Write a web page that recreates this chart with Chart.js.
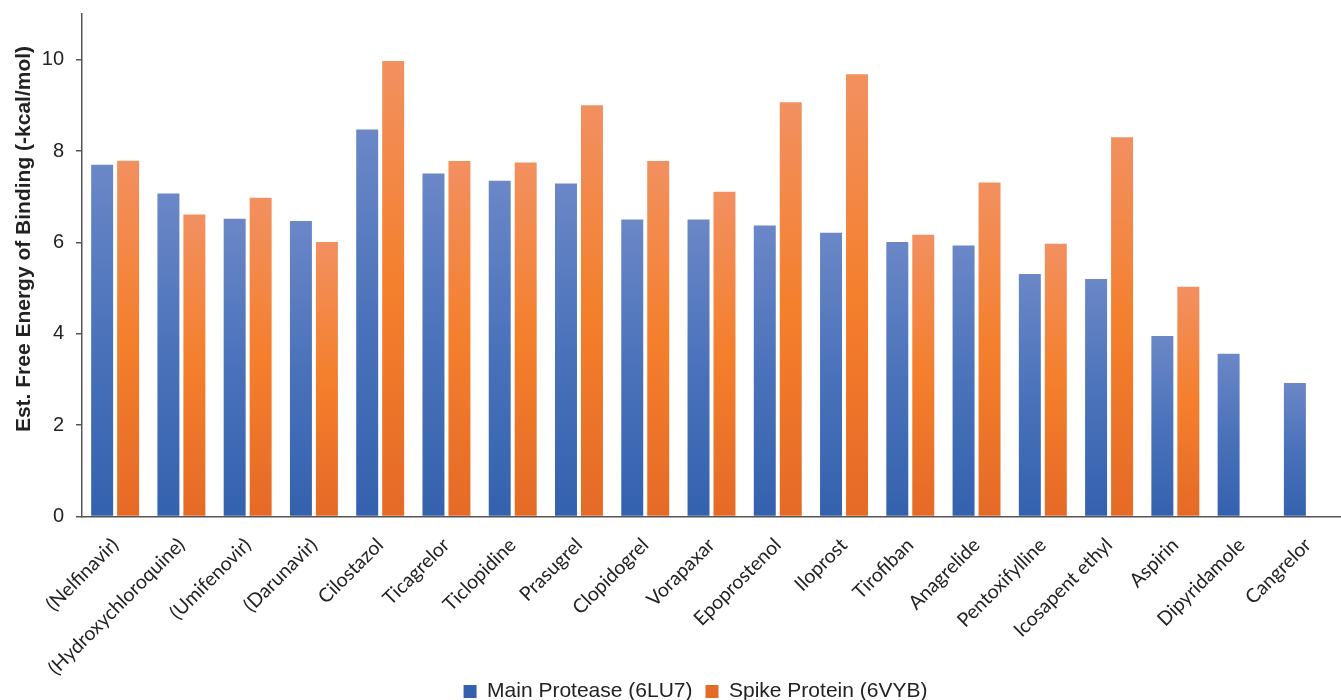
<!DOCTYPE html>
<html>
<head>
<meta charset="utf-8">
<script src="https://cdn.jsdelivr.net/npm/chart.js@4.4.1/dist/chart.umd.min.js"></script>
<style>
html,body{margin:0;padding:0;background:#fff;}
#wrap{width:1341px;height:700px;position:relative;}
</style>
</head>
<body>
<div id="wrap"><canvas id="c"></canvas></div>
<script>
const categories = ["(Nelfinavir)","(Hydroxychloroquine)","(Umifenovir)","(Darunavir)","Cilostazol","Ticagrelor","Ticlopidine","Prasugrel","Clopidogrel","Vorapaxar","Epoprostenol","Iloprost","Tirofiban","Anagrelide","Pentoxifylline","Icosapent ethyl","Aspirin","Dipyridamole","Cangrelor"];
const mainProtease = [7.70,7.07,6.52,6.47,8.47,7.51,7.35,7.29,6.50,6.50,6.37,6.21,6.01,5.93,5.31,5.20,3.95,3.56,2.92];
const spikeProtein = [7.79,6.61,6.98,6.01,9.97,7.78,7.75,9.00,7.78,7.11,9.07,9.68,6.17,7.31,5.97,8.30,5.03,null,null];
const yTicks = [0,2,4,6,8,10];
const yTitle = 'Est. Free Energy of Binding (-kcal/mol)';

function gradFill(stops, solid){
  return function(ctx){
    const chart = ctx.chart;
    if (ctx.type !== 'data' || !chart.chartArea || ctx.raw == null) return solid;
    const y = chart.scales.y;
    const top = y.getPixelForValue(ctx.raw);
    const base = y.getPixelForValue(0);
    const g = chart.ctx.createLinearGradient(0, top, 0, base);
    g.addColorStop(0, stops[0]);
    g.addColorStop(0.5, stops[1]);
    g.addColorStop(1, stops[2]);
    return g;
  };
}

const sans = "'Liberation Sans', Arial, Helvetica, sans-serif";

const legendShift = {
  id: 'legendShift',
  beforeDraw(chart){
    const lg = chart.legend;
    if (lg) { lg.left = 25; lg.right = 1341 + 25; }
  }
};

new Chart(document.getElementById('c'), {
  type: 'bar',
  data: {
    labels: categories,
    datasets: [
      { label: 'Main Protease (6LU7)', data: mainProtease,
        backgroundColor: gradFill(['#6b87c7','#4a72ba','#3461ae'], '#4a72bd'),
        borderWidth: 0, categoryPercentage: 0.784, barPercentage: 0.846 },
      { label: 'Spike Protein (6VYB)', data: spikeProtein,
        backgroundColor: gradFill(['#f29060','#f47f2c','#e56a27'], '#f27b2c'),
        borderWidth: 0, categoryPercentage: 0.784, barPercentage: 0.846 }
    ]
  },
  plugins: [legendShift],
  options: {
    responsive: true,
    maintainAspectRatio: false,
    animation: false,
    layout: { padding: { top: 14, right: 0, left: 0, bottom: -12 } },
    plugins: {
      tooltip: { enabled: false },
      legend: {
        position: 'bottom',
        labels: { boxWidth: 13, boxHeight: 13, padding: 13, color: '#222',
          font: { family: sans, size: 21 } }
      }
    },
    scales: {
      x: {
        grid: { display: false, drawTicks: false },
        border: { display: true, color: '#555', width: 1.5 },
        ticks: { minRotation: 45, maxRotation: 45, autoSkip: false, padding: 17, color: '#222',
          font: { family: "Lato, 'Open Sans', sans-serif", size: 19.5 } },
        afterFit: (s) => { s.height = 151.5; s.paddingLeft = 0; s.paddingRight = 0; s._computeLabelArea = () => null; }
      },
      y: {
        min: 0, max: 11,
        afterBuildTicks: (axis) => { axis.ticks = yTicks.map(v => ({ value: v })); },
        grid: { display: true, drawOnChartArea: false, drawTicks: true, tickLength: 6, color: '#555', lineWidth: 1.5 },
        border: { display: true, color: '#555', width: 1.5 },
        ticks: { padding: 12, color: '#222', font: { family: sans, size: 20 } },
        title: { display: true, text: '\u00A0'.repeat(9) + yTitle, color: '#222',
          padding: { top: 12, bottom: 0 },
          font: { family: sans, size: 21, weight: 'bold' } },
        afterFit: (s) => { s.width = 82; s.paddingTop = 0; s.paddingBottom = 0; }
      }
    }
  }
});
</script>
</body>
</html>
